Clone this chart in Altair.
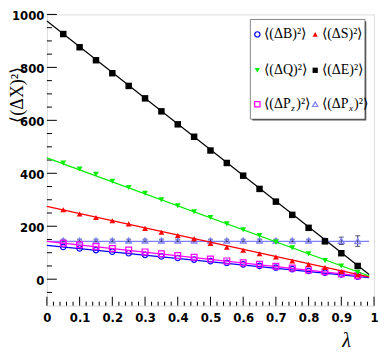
import altair as alt
import pandas as pd

# ---- data ----
lam = [0.05, 0.10, 0.15, 0.20, 0.25, 0.30, 0.35, 0.40, 0.45, 0.50,
       0.55, 0.60, 0.65, 0.70, 0.75, 0.80, 0.85, 0.90, 0.95]
E  = [926, 876, 827, 778, 730, 683, 634, 585, 538, 486, 439, 391, 341, 293, 243, 194, 143, 98, 50]
Q  = [439, 416, 396, 370, 346, 325, 300, 277, 255, 233, 209, 187, 165, 140, 119, 96, 71, 50, 26]
S  = [262, 246, 233, 221, 209, 192, 177, 165, 153, 135, 121, 109, 96, 84, 69, 56, 44, 29, 16]
Pz = [136, 130, 123, 116, 110, 103, 96, 89, 83, 76, 69, 62, 56, 49, 42, 35, 28, 21, 13]
B  = [122, 116, 110, 104, 98, 92, 86, 80, 74, 68, 62, 56, 50, 44, 38, 31, 25, 18, 10]
Px = [146, 146, 146, 146, 146, 146, 146, 146, 146, 146, 146, 146, 146, 146, 146, 146, 146, 145, 144]
Px_err = [5, 5, 5, 5, 5, 5, 5, 5, 5, 5, 5, 5, 5, 5, 5, 5, 8, 14, 20]

# fitted straight lines: value at lambda start / end
fit_lam = [0.0, 0.985]
fit_E  = [975, 18]
fit_Q  = [458, 12]
fit_S  = [275, 9]
fit_Pz = [143, 9]
fit_B  = [128, 6]
fit_Px = [143, 143]

y_major = [0, 200, 400, 600, 800, 1000]
y_minor = [-50, 50, 100, 150, 250, 300, 350, 450, 500, 550, 650, 700, 750, 850, 900, 950]
x_major = [0.0, 0.1, 0.2, 0.3, 0.4, 0.5, 0.6, 0.7, 0.8, 0.9, 1.0]
x_minor = [0.02, 0.04, 0.06, 0.08, 0.12, 0.14, 0.16, 0.18, 0.22, 0.24, 0.26, 0.28,
           0.32, 0.34, 0.36, 0.38, 0.42, 0.44, 0.46, 0.48, 0.52, 0.54, 0.56, 0.58,
           0.62, 0.64, 0.66, 0.68, 0.72, 0.74, 0.76, 0.78, 0.82, 0.84, 0.86, 0.88,
           0.92, 0.94, 0.96, 0.98]

W, H = 328, 292
LABEL_FONT = "Liberation Sans Narrow, DejaVu Sans Condensed, Liberation Sans"

xs = alt.Scale(domain=[0, 1], nice=False, zero=False)
ys = alt.Scale(domain=[-100, 1000], nice=False, zero=False)
xaxis = alt.Axis(values=x_major, ticks=False, domain=False, grid=False,
                 labelFont=LABEL_FONT, labelFontWeight="bold", labelFontSize=13,
                 labelPadding=6, labelColor="black", labelFlush=False,
                 format="~g", title="λ", titleFont="Liberation Serif",
                 titleFontStyle="italic", titleFontWeight="normal", titleFontSize=20,
                 titleX=300, titleY=35, titleAlign="center", titleBaseline="middle",
                 titleColor="black")
yaxis = alt.Axis(values=y_major, ticks=False, domain=False, grid=False,
                 labelFont=LABEL_FONT, labelFontWeight="bold", labelFontSize=13,
                 labelPadding=3, labelOffset=1.5, labelColor="black", labelFlush=False,
                 format="d",
                 title="⟨(ΔX)²⟩", titleFont="Liberation Serif", titleFontWeight="normal",
                 titleFontSize=18, titleX=-29, titleY=80, titleAlign="center",
                 titleBaseline="middle", titleAngle=-90, titleColor="black")


def X(field):
    return alt.X(f"{field}:Q", scale=xs, axis=xaxis)


def Y(field):
    return alt.Y(f"{field}:Q", scale=ys, axis=yaxis)


layers = []

# tick marks drawn inside the frame
layers.append(alt.Chart(pd.DataFrame({"t": x_major})).mark_rule(color="black", strokeWidth=1)
              .encode(x=X("t"), y=alt.value(H), y2=alt.value(H - 9)))
layers.append(alt.Chart(pd.DataFrame({"t": x_minor})).mark_rule(color="black", strokeWidth=1)
              .encode(x=X("t"), y=alt.value(H), y2=alt.value(H - 4)))
layers.append(alt.Chart(pd.DataFrame({"t": y_major})).mark_rule(color="black", strokeWidth=1)
              .encode(y=Y("t"), x=alt.value(0), x2=alt.value(10)))
layers.append(alt.Chart(pd.DataFrame({"t": y_minor})).mark_rule(color="black", strokeWidth=1)
              .encode(y=Y("t"), x=alt.value(0), x2=alt.value(5)))

series = [
    # name, values, fit, color, shape, filled, size
    ("Px", Px, fit_Px, "#8080ff", "triangle-up", False, 34),
    ("B",  B,  fit_B,  "#0000ff", "circle",      False, 30),
    ("Pz", Pz, fit_Pz, "#ff00ff", "square",      False, 34),
    ("S",  S,  fit_S,  "#ff0000", "triangle-up", True,  34),
    ("Q",  Q,  fit_Q,  "#00ee00", "triangle-down", True, 34),
    ("E",  E,  fit_E,  "#000000", "square",      True,  42),
]

for name, vals, fit, color, shape, filled, size in series:
    fdf = pd.DataFrame({"lam": fit_lam, "val": fit})
    layers.append(alt.Chart(fdf).mark_line(color=color, strokeWidth=1.2)
                  .encode(x=X("lam"), y=Y("val")))
    if name == "Px":
        edf = pd.DataFrame({"lam": lam, "lo": [v - e for v, e in zip(vals, Px_err)],
                            "hi": [v + e for v, e in zip(vals, Px_err)]})
        layers.append(alt.Chart(edf).mark_errorbar(ticks=alt.MarkConfig(size=5, color="#111133"),
                                                   color="#333366", thickness=1)
                      .encode(x=X("lam"), y=Y("lo"), y2="hi:Q"))
    pdf = pd.DataFrame({"lam": lam, "val": vals})
    layers.append(alt.Chart(pdf).mark_point(shape=shape, filled=filled, size=size,
                                            color=color, strokeWidth=1.2, opacity=1)
                  .encode(x=X("lam"), y=Y("val")))

# legend box
layers.append(alt.Chart().mark_rect(fill="white", stroke="#888888", strokeWidth=1)
              .encode(x=alt.value(204), x2=alt.value(319), y=alt.value(5), y2=alt.value(105)))
layers.append(alt.Chart().mark_rule(color="#555555", strokeWidth=1.5)
              .encode(x=alt.value(319.5), x2=alt.value(319.5), y=alt.value(7), y2=alt.value(106)))
layers.append(alt.Chart().mark_rule(color="#555555", strokeWidth=1.5)
              .encode(x=alt.value(206), x2=alt.value(320), y=alt.value(105.5), y2=alt.value(105.5)))

legend_entries = [
    # symbol x, y, shape, color, filled, text pieces
    (211, 20, "circle", "#0000ff", False, "⟨(ΔB)²⟩", None, None),
    (269, 20, "triangle-up", "#ff0000", True, "⟨(ΔS)²⟩", None, None),
    (211, 56, "triangle-down", "#00ee00", True, "⟨(ΔQ)²⟩", None, None),
    (269, 56, "square", "#000000", True, "⟨(ΔE)²⟩", None, None),
    (211, 90, "square", "#ff00ff", False, "⟨(ΔP", "z", ")²⟩"),
    (269, 90, "triangle-up", "#8080ff", False, "⟨(ΔP", "x", ")²⟩"),
]
for sx, sy, shape, color, filled, t1, sub, t2 in legend_entries:
    layers.append(alt.Chart().mark_point(shape=shape, filled=filled, size=28, color=color,
                                         strokeWidth=1.2, opacity=1)
                  .encode(x=alt.value(sx), y=alt.value(sy)))
    layers.append(alt.Chart().mark_text(align="left", baseline="middle", font="Liberation Serif",
                                        fontSize=14, color="black")
                  .encode(x=alt.value(sx + 7), y=alt.value(sy), text=alt.value(t1)))
    if sub:
        layers.append(alt.Chart().mark_text(align="left", baseline="middle", font="Liberation Serif",
                                            fontSize=9, fontStyle="italic", color="black")
                      .encode(x=alt.value(sx + 34), y=alt.value(sy + 4), text=alt.value(sub)))
        layers.append(alt.Chart().mark_text(align="left", baseline="middle", font="Liberation Serif",
                                            fontSize=14, color="black")
                      .encode(x=alt.value(sx + 39), y=alt.value(sy), text=alt.value(t2)))

chart = (alt.layer(*layers)
         .properties(width=W, height=H,
                     autosize=alt.AutoSizeParams(type="none"),
                     padding={"left": 39, "top": 6, "right": 10, "bottom": 46})
         .configure_view(stroke="black", strokeWidth=3)
         .configure(background="white"))

chart.save("out.html", embed_options={"renderer": "svg", "actions": False})
